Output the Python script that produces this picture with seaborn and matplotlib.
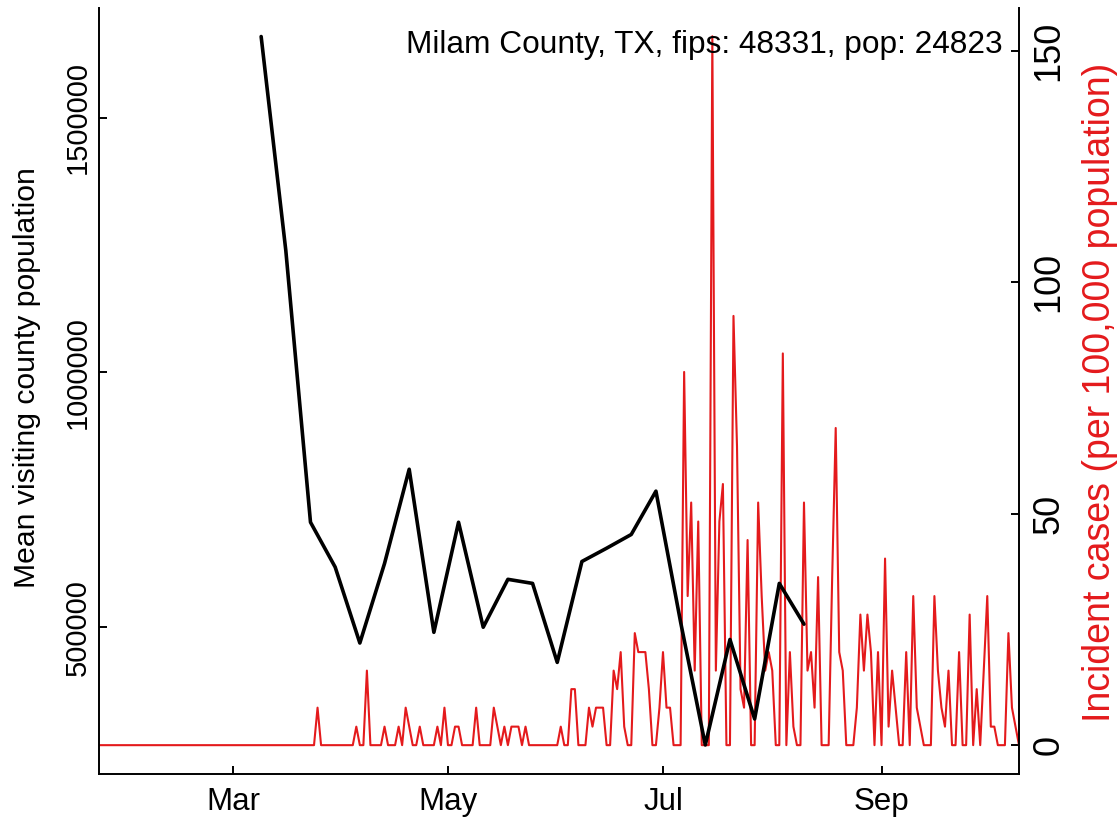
import pandas as pd
import seaborn as sns
import matplotlib.pyplot as plt
import matplotlib.dates as mdates

# weekly mean visiting population (left axis)
visit_dates = ["2020-03-09", "2020-03-16", "2020-03-23", "2020-03-30", "2020-04-06",
               "2020-04-13", "2020-04-20", "2020-04-27", "2020-05-04", "2020-05-11",
               "2020-05-18", "2020-05-25", "2020-06-01", "2020-06-08", "2020-06-15",
               "2020-06-22", "2020-06-29", "2020-07-06", "2020-07-13", "2020-07-20",
               "2020-07-27", "2020-08-03", "2020-08-10"]
visit_pop = [1659000, 1239000, 706000, 618000, 469000,
             625000, 810000, 490000, 706000, 500000,
             594000, 586000, 431000, 629000, 655000,
             682000, 767000, 510000, 269000, 476000,
             320000, 586000, 506000]

# daily incident cases per 100,000 (right axis), Jan 23 - Oct 10 2020
case_start = "2020-01-23"
case_rate = [
    0, 0, 0, 0, 0, 0, 0, 0, 0, 0, 0, 0, 0, 0,
    0, 0, 0, 0, 0, 0, 0, 0, 0, 0, 0, 0, 0, 0,
    0, 0, 0, 0, 0, 0, 0, 0, 0, 0, 0, 0, 0, 0,
    0, 0, 0, 0, 0, 0, 0, 0, 0, 0, 0, 0, 0, 0,
    0, 0, 0, 0, 0, 0, 8.1, 0, 0, 0, 0, 0, 0, 0,
    0, 0, 0, 4.0, 0, 0, 16.1, 0, 0, 0, 0, 4.0, 0, 0,
    0, 4.0, 0, 8.1, 4.0, 0, 0, 4.0, 0, 0, 0, 0, 4.0, 0,
    8.1, 0, 0, 4.0, 4.0, 0, 0, 0, 0, 8.1, 0, 0, 0, 0,
    8.1, 4.0, 0, 4.0, 0, 4.0, 4.0, 4.0, 0, 4.0, 0, 0, 0, 0,
    0, 0, 0, 0, 0, 4.0, 0, 0, 12.1, 12.1, 0, 0, 0, 8.1,
    4.0, 8.1, 8.1, 8.1, 0, 0, 16.1, 12.1, 20.1, 4.0, 0, 0, 24.2, 20.1,
    20.1, 20.1, 12.1, 0, 0, 8.1, 20.1, 8.1, 8.1, 0, 0, 0, 80.6, 32.2,
    52.4, 16.1, 48.3, 0, 0, 0, 153.1, 16.1, 48.3, 56.4, 0, 0, 92.7, 64.5,
    12.1, 8.1, 44.3, 0, 0, 52.4, 32.2, 16.1, 20.1, 16.1, 0, 0, 84.6, 0,
    20.1, 4.0, 0, 0, 52.4, 16.1, 20.1, 8.1, 36.3, 0, 0, 0, 36.3, 68.5,
    20.1, 16.1, 0, 0, 0, 8.1, 28.2, 16.1, 28.2, 20.1, 0, 20.1, 0, 40.3,
    4.0, 16.1, 8.1, 0, 0, 20.1, 0, 32.2, 8.1, 4.0, 0, 0, 0, 32.2,
    16.1, 8.1, 4.0, 16.1, 0, 0, 20.1, 0, 0, 28.2, 0, 12.1, 0, 16.1,
    32.2, 4.0, 4.0, 0, 0, 0, 24.2, 8.1, 4.0, 0,
]

title_text = "Milam County, TX, fips: 48331, pop: 24823"
left_label = "Mean visiting county population"
right_label = "Incident cases (per 100,000 population)"
left_ticks = [500000, 1000000, 1500000]
right_ticks = [0, 50, 100, 150]

red = "#E41A1C"

visits = pd.DataFrame({"date": pd.to_datetime(visit_dates), "pop": visit_pop})
cases = pd.DataFrame({"date": pd.date_range(case_start, periods=len(case_rate), freq="D"),
                      "rate": case_rate})

sns.set_style("ticks")
plt.rcParams["font.family"] = ["Liberation Sans", "DejaVu Sans"]
plt.rcParams["text.color"] = "black"

fig = plt.figure(figsize=(11.19, 8.22), dpi=100)
ax = fig.add_axes([99 / 1119, 48.5 / 822, 920 / 1119, 765.5 / 822])
ax2 = ax.twinx()

sns.lineplot(data=cases, x="date", y="rate", ax=ax2, color=red, linewidth=1.5)
sns.lineplot(data=visits, x="date", y="pop", ax=ax, color="black", linewidth=2.6)

ax.set_zorder(2)
ax2.set_zorder(1)
ax.patch.set_visible(False)

ax.set_xlim(cases["date"].iloc[0], cases["date"].iloc[-1])
ax.set_ylim(213000, 1715000)
ax2.set_ylim(-6.12, 159.2)

ax.xaxis.set_major_locator(mdates.MonthLocator(bymonth=[3, 5, 7, 9]))
ax.xaxis.set_major_formatter(mdates.DateFormatter("%b"))
ax.set_yticks(left_ticks)
ax.set_yticklabels([str(t) for t in left_ticks], rotation=90, va="center")
ax2.set_yticks(right_ticks)
ax2.set_yticklabels([str(t) for t in right_ticks], rotation=90, va="center")

ax.set_xlabel("")
ax.set_ylabel("")
ax2.set_xlabel("")
ax2.set_ylabel("")

for a in (ax, ax2):
    for s in a.spines.values():
        s.set_linewidth(1.4)
        s.set_color("black")
    a.spines["top"].set_visible(False)
    a.tick_params(direction="in", length=5.5, width=1.4, colors="black")
ax.spines["right"].set_visible(False)
ax2.spines["left"].set_visible(False)
ax2.spines["bottom"].set_visible(False)
ax.tick_params(axis="x", pad=10, labelsize=22.5)
ax.tick_params(axis="y", pad=5, labelsize=21)
ax2.tick_params(axis="y", pad=9, labelsize=26)

ax.text(0.9826, 0.9516, title_text, transform=ax.transAxes, ha="right", va="center",
        fontsize=22.8, color="black")
fig.text(27 / 1119, 1 - 378 / 822, left_label, rotation=90, ha="center", va="center",
         fontsize=21.7, color="black")
fig.text(1100 / 1119, 1 - 392 / 822, right_label, rotation=90, ha="center", va="center",
         fontsize=27, color=red)

plt.savefig("out.png", dpi=100)
